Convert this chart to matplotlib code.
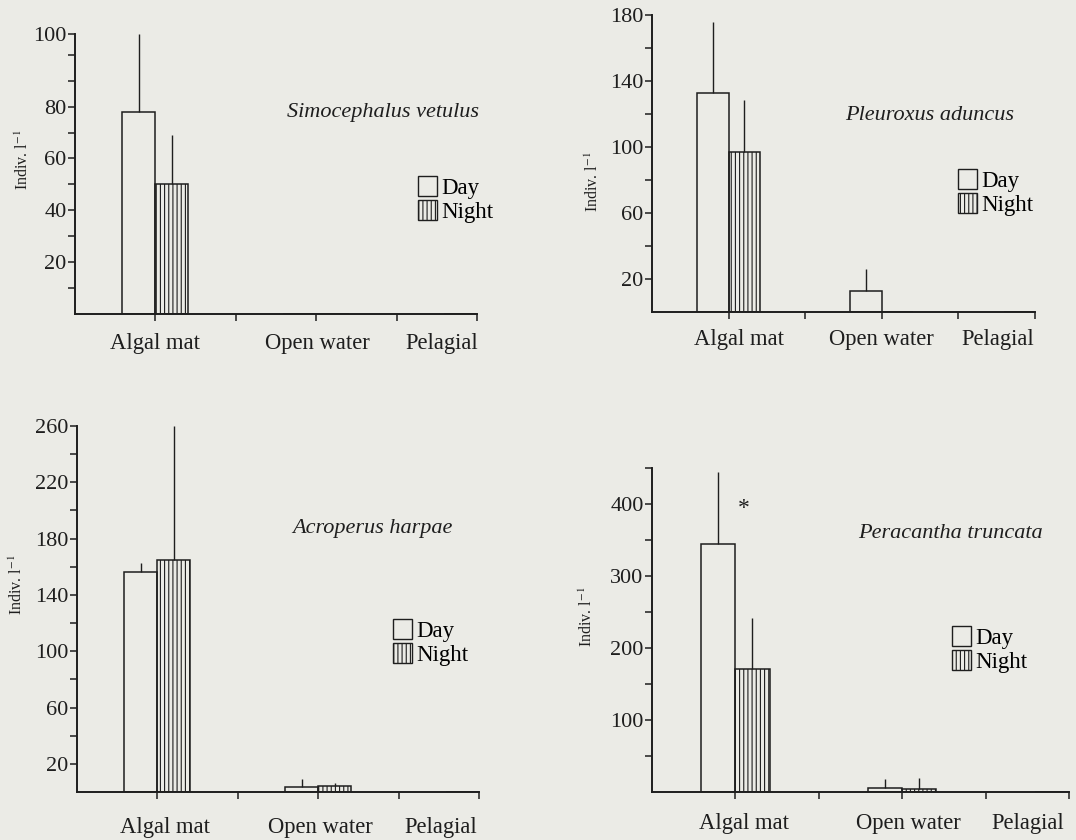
import matplotlib
matplotlib.use("Agg")
import matplotlib.pyplot as plt
from matplotlib.patches import Patch

plt.rcParams['font.family'] = ['Liberation Serif', 'DejaVu Serif']
plt.rcParams['mathtext.fontset'] = 'stix'
plt.rcParams['hatch.linewidth'] = 0.8

# data (Indiv. per litre), categories at ticks 1, 3, 5
habitats = ["Algal mat", "Open water", "Pelagial"]
cat_pos = [1, 3, 5]

species = ["Simocephalus vetulus", "Pleuroxus aduncus",
           "Acroperus harpae", "Peracantha truncata"]

simo_day = [77.8, 0, 0]
simo_day_sd = [30.2, 0, 0]
simo_night = [50.0, 0, 0]
simo_night_sd = [19.0, 0, 0]

pleu_day = [133, 12.5, 0]
pleu_day_sd = [42.5, 13.5, 0]
pleu_night = [97, 0, 0]
pleu_night_sd = [31.5, 0, 0]

acro_day = [156.5, 3.5, 0]
acro_day_sd = [6.0, 5.7, 0]
acro_night = [165, 4.5, 0]
acro_night_sd = [95, 2.0, 0]

pera_day = [344, 5.5, 0]
pera_day_sd = [101, 13, 0]
pera_night = [171, 4.6, 0]
pera_night_sd = [70, 14.5, 0]

# y axis ticks per panel (the first panel's top tick reads "100" at the axis end)
ylims = [108, 180, 260, 450]
major_ticks = [[20, 40, 60, 80, 108], [20, 60, 100, 140, 180],
               [20, 60, 100, 140, 180, 220, 260], [100, 200, 300, 400]]
major_labels = [["20", "40", "60", "80", "100"], None, None, None]
minor_ticks = [[10, 30, 50, 70, 90, 100], [40, 80, 120, 160],
               [40, 80, 120, 160, 200, 240], [50, 150, 250, 350, 450]]

W, H = 1076, 840
fig = plt.figure(figsize=(W / 100, H / 100), dpi=100)
fig.patch.set_facecolor('#ebebe6')
ink = '#1e1e1e'

def fx(x):
    return x / W

def fy(y):
    return 1 - y / H

# axes boxes in pixels: left, top, right, bottom
boxes = [(75, 34, 477, 314), (652, 15, 1035, 312),
         (77, 426, 479, 792), (652, 468, 1069, 792)]
data = [(simo_day, simo_day_sd, simo_night, simo_night_sd),
        (pleu_day, pleu_day_sd, pleu_night, pleu_night_sd),
        (acro_day, acro_day_sd, acro_night, acro_night_sd),
        (pera_day, pera_day_sd, pera_night, pera_night_sd)]
label_x = [[1.0, 3.01, 4.56], [1.13, 2.99, 4.52], [1.09, 3.03, 4.53], [1.10, 3.07, 4.50]]
label_off = [29, 28, 35, 31]
species_xy = [(287, 112), (845, 115), (292, 528), (858, 533)]
legend_xy = [(418, 176), (958, 169), (393, 619), (952, 626)]
ylabel_xy = [(23, 160), (593, 182), (17, 585), (587, 617)]

w = 0.41
for i, (l, t, r, b) in enumerate(boxes):
    ax = fig.add_axes([fx(l), fy(b), fx(r - l), (b - t) / H])
    ax.set_facecolor('none')
    day, day_sd, night, night_sd = data[i]
    xd = [p - w / 2 for p in cat_pos]
    xn = [p + w / 2 for p in cat_pos]
    ax.bar(xd, day, width=w, color='none', edgecolor=ink, linewidth=1.1)
    ax.bar(xn, night, width=w, color='none', edgecolor=ink, linewidth=1.1,
           hatch='||||')
    ax.errorbar(xd, day, yerr=[[0] * 3, day_sd], fmt='none', ecolor=ink,
                elinewidth=1.0, capsize=0)
    ax.errorbar(xn, night, yerr=[[0] * 3, night_sd], fmt='none', ecolor=ink,
                elinewidth=1.0, capsize=0)

    ax.set_xlim(0, 5)
    ax.set_ylim(0, ylims[i])
    ax.set_xticks([1, 2, 3, 4, 5])
    ax.set_xticklabels([])
    ax.set_yticks(major_ticks[i])
    if major_labels[i]:
        ax.set_yticklabels(major_labels[i])
    ax.set_yticks(minor_ticks[i], minor=True)
    ax.tick_params(axis='both', which='both', direction='out', length=5,
                   width=1.1, color=ink, labelcolor=ink, labelsize=16, pad=1)
    for s in ['top', 'right']:
        ax.spines[s].set_visible(False)
    for s in ['left', 'bottom']:
        ax.spines[s].set_linewidth(1.4)
        ax.spines[s].set_color(ink)

    for name, px in zip(habitats, label_x[i]):
        ax.annotate(name, xy=(px, 0), xycoords=('data', 'axes fraction'),
                    xytext=(0, -label_off[i]), textcoords='offset pixels',
                    ha='center', va='center', fontsize=16.3, color=ink)

    sx, sy = species_xy[i]
    fig.text(fx(sx), fy(sy), species[i], style='italic', fontsize=16,
             ha='left', va='center', color=ink)

    yx, yy = ylabel_xy[i]
    fig.text(fx(yx), fy(yy), r'Indiv. l$^{-1}$', rotation=90, fontsize=11.5,
             ha='center', va='center', color=ink)

    handles = [Patch(facecolor='none', edgecolor=ink, label='Day'),
               Patch(facecolor='none', edgecolor=ink, hatch='||||', label='Night')]
    lx, ly = legend_xy[i]
    ax.legend(handles=handles, loc='upper left', bbox_to_anchor=(fx(lx), fy(ly)),
              bbox_transform=fig.transFigure, frameon=False, fontsize=16.5,
              handlelength=0.85, handleheight=0.95, handletextpad=0.15,
              labelspacing=0.05, borderpad=0, borderaxespad=0)

    if i == 3:
        ax.text(1.10, 394, '*', fontsize=17, ha='center', va='center',
                color=ink)

fig.savefig("out.png", dpi=100, facecolor=fig.get_facecolor())
